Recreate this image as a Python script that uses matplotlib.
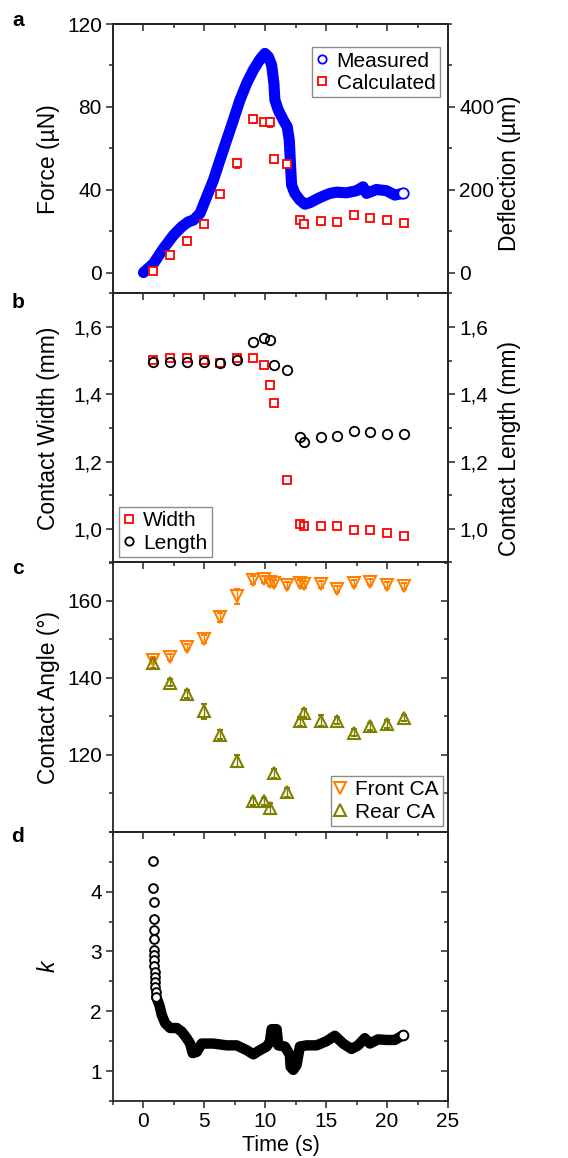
import matplotlib
matplotlib.use("Agg")
import matplotlib.pyplot as plt
from matplotlib.lines import Line2D
from matplotlib.ticker import MultipleLocator, FuncFormatter

plt.rcParams['font.family'] = ['Liberation Sans', 'DejaVu Sans']
plt.rcParams['font.size'] = 15

# time points of the discrete measurements (s)
t_pts = [0.82, 2.19, 3.55, 4.97, 6.28, 7.65, 9.02, 9.89, 10.38, 10.71,
         11.80, 12.84, 13.17, 14.54, 15.90, 17.27, 18.58, 20.0, 21.37]

# panel a - measured force trace
t_meas = [0.0, 0.82, 1.64, 2.46, 3.14, 3.69, 4.10, 4.64, 5.19, 5.74, 6.28,
          6.83, 7.38, 7.92, 8.47, 9.02, 9.56, 9.97, 10.25, 10.52, 10.71,
          10.79, 11.07, 11.48, 11.80, 11.97, 12.08, 12.16, 12.43, 12.84,
          13.25, 13.66, 14.21, 14.75, 15.30, 15.85, 16.67, 17.49, 18.03,
          18.31, 19.13, 19.95, 20.63, 21.31]
f_meas = [0.0, 4.3, 11.6, 18.0, 22.1, 24.5, 25.3, 28.5, 36.6, 44.6, 54.3,
          64.0, 73.6, 83.3, 91.3, 97.8, 102.9, 105.8, 104.2, 100.2, 91.3,
          83.3, 78.4, 73.6, 70.4, 64.0, 51.1, 42.2, 38.2, 35.0,
          33.0, 33.7, 35.4, 36.9, 38.2, 38.8, 38.5, 39.5, 41.4,
          38.2, 40.1, 39.5, 37.4, 38.2]
f_calc = [0.8, 8.4, 15.0, 23.5, 37.7, 52.7, 73.9, 72.8, 72.5, 54.8,
          52.2, 25.3, 23.2, 25.0, 24.5, 27.7, 26.4, 25.3, 23.7]
f_calc_err = [0.6, 0.8, 1.0, 1.5, 1.2, 2.2, 1.5, 1.5, 2.0, 1.0,
              1.0, 1.2, 1.0, 0.8, 1.0, 1.2, 1.2, 0.8, 0.8]

# panel b - contact width / length (mm)
width = [1.501, 1.509, 1.509, 1.503, 1.494, 1.509, 1.507, 1.487, 1.426, 1.373,
         1.144, 1.015, 1.008, 1.008, 1.008, 0.996, 0.996, 0.988, 0.978]
length = [1.496, 1.497, 1.495, 1.495, 1.494, 1.503, 1.556, 1.568, 1.561, 1.488,
          1.472, 1.274, 1.259, 1.274, 1.276, 1.292, 1.288, 1.281, 1.281]

# panel c - contact angles (deg)
front_ca = [144.7, 145.5, 148.0, 150.1, 155.8, 161.2, 165.4, 165.6, 165.0, 164.6,
            164.2, 164.6, 164.3, 164.3, 163.1, 164.6, 165.0, 164.2, 164.0]
front_err = [0.8, 0.8, 0.8, 1.0, 1.2, 2.0, 1.0, 1.0, 1.0, 0.8,
             0.8, 0.8, 0.8, 0.8, 0.8, 0.8, 0.8, 0.8, 0.8]
rear_ca = [143.8, 138.8, 135.9, 131.3, 125.2, 118.4, 107.9, 107.9, 106.1, 115.2,
           110.3, 128.7, 130.8, 128.9, 128.9, 125.8, 127.4, 128.0, 129.5]
rear_err = [1.2, 1.0, 1.0, 2.0, 1.2, 1.5, 1.0, 1.0, 1.5, 1.2,
            1.2, 1.2, 1.0, 1.5, 1.0, 1.0, 1.0, 1.0, 0.8]

# panel d - k; first the isolated points at the start, then the dense trace
t_k_start = [0.82, 0.82, 0.83, 0.84, 0.84, 0.85, 0.86, 0.87, 0.88, 0.89,
             0.91, 0.93, 0.95, 0.98, 1.01, 1.05]
k_start = [4.51, 4.06, 3.82, 3.54, 3.36, 3.21, 3.02, 2.94, 2.86, 2.75,
           2.66, 2.58, 2.49, 2.41, 2.33, 2.24]
t_k = [1.05, 1.31, 1.50, 1.78, 2.19, 2.73, 3.14, 3.55, 3.83, 4.04, 4.37, 4.78,
       5.74, 6.83, 7.65, 8.47, 9.02, 9.56, 10.11, 10.38, 10.52, 10.93, 11.07,
       11.61, 12.02, 12.08, 12.30, 12.57, 12.84, 13.39, 14.21, 15.03, 15.71,
       16.39, 17.08, 17.62, 18.17, 18.58, 19.26, 19.95, 20.63, 21.31]
k_vals = [2.24, 2.10, 1.94, 1.80, 1.72, 1.72, 1.66, 1.55, 1.46, 1.30, 1.32, 1.46,
          1.46, 1.43, 1.43, 1.35, 1.28, 1.35, 1.41, 1.49, 1.70, 1.70, 1.43,
          1.41, 1.27, 1.07, 1.02, 1.10, 1.41, 1.43, 1.43, 1.50, 1.59,
          1.46, 1.37, 1.43, 1.55, 1.46, 1.53, 1.52, 1.52, 1.60]

BLUE = '#0000ff'
RED = '#ff0000'
ORANGE = '#ff8000'
OLIVE = '#808000'
SPINE = '#262626'
LABEL_FS = 16.5

W, H = 568, 1158
fig = plt.figure(figsize=(W / 100, H / 100), dpi=100)

left_px, right_px = 113, 448
top_px, bot_px = 24, 1101
ph = (bot_px - top_px) / 4.0
axes = []
for i in range(4):
    b = bot_px - (3 - i) * ph
    ax = fig.add_axes([left_px / W, 1 - b / H, (right_px - left_px) / W, ph / H])
    axes.append(ax)
ax_a, ax_b, ax_c, ax_d = axes

comma = FuncFormatter(lambda v, p: ('%.1f' % v).replace('.', ','))


def style(ax, yticks, ymin, label_y, right_mirror=True):
    ax.set_xlim(-2.5, 25)
    ax.xaxis.set_major_locator(MultipleLocator(5))
    ax.xaxis.set_minor_locator(MultipleLocator(2.5))
    ax.set_yticks(yticks)
    ax.yaxis.set_minor_locator(MultipleLocator(ymin))
    for s in ax.spines.values():
        s.set_linewidth(1.3)
        s.set_color(SPINE)
    ax.tick_params(which='both', direction='out', top=False, right=False,
                   width=1.1, color=SPINE, pad=3)
    ax.tick_params(which='major', length=5)
    ax.tick_params(which='minor', length=3)
    sx = ax.secondary_xaxis('top')
    sx.xaxis.set_major_locator(MultipleLocator(5))
    sx.xaxis.set_minor_locator(MultipleLocator(2.5))
    sx.tick_params(which='both', direction='in', labeltop=False, width=1.1, color=SPINE)
    sx.tick_params(which='major', length=5)
    sx.tick_params(which='minor', length=3)
    sx.spines['top'].set_linewidth(1.3)
    sx.spines['top'].set_color(SPINE)
    if right_mirror:
        sy = ax.secondary_yaxis('right')
        sy.set_yticks(yticks)
        sy.yaxis.set_minor_locator(MultipleLocator(ymin))
        sy.tick_params(which='both', direction='in', labelright=False, width=1.1, color=SPINE)
        sy.tick_params(which='major', length=5)
        sy.tick_params(which='minor', length=3)
        sy.spines['right'].set_linewidth(1.3)
        sy.spines['right'].set_color(SPINE)
    if ax is not ax_d:
        ax.tick_params(axis='x', labelbottom=False)
    ax.yaxis.set_label_coords(-0.158, label_y)


def twin(ax, lo, hi, yticks, mnr, label, label_y, fmt=None):
    tw = ax.twinx()
    tw.set_ylim(lo, hi)
    tw.set_yticks(yticks)
    tw.yaxis.set_minor_locator(MultipleLocator(mnr))
    if fmt is not None:
        tw.yaxis.set_major_formatter(fmt)
    tw.tick_params(which='both', direction='out', width=1.1, color=SPINE, pad=3)
    tw.tick_params(which='major', length=5)
    tw.tick_params(which='minor', length=3)
    for s in tw.spines.values():
        s.set_linewidth(1.3)
        s.set_color(SPINE)
    tw.set_ylabel(label, fontsize=LABEL_FS)
    tw.yaxis.set_label_coords(1.149, label_y)
    return tw


def leg_style(ax, handles, labels, loc, anchor):
    lg = ax.legend(handles, labels, loc=loc, bbox_to_anchor=anchor, borderaxespad=0,
                   fancybox=False, edgecolor='#8c8c8c', framealpha=1, fontsize=15,
                   handlelength=0.5, handletextpad=0.45, labelspacing=0.15,
                   borderpad=0.22)
    lg.get_frame().set_linewidth(1.0)
    return lg


# ---- panel a ----
ax_a.set_ylim(-10, 120)
style(ax_a, [0, 40, 80, 120], 20, 0.432, right_mirror=False)
ax_a.plot(t_meas, f_meas, '-', color=BLUE, lw=8.0, solid_capstyle='round',
          solid_joinstyle='round', zorder=2)
ax_a.plot(t_meas[-1], f_meas[-1], 'o', ms=7.5, mfc='white', mec=BLUE, mew=1.3, zorder=3)
ax_a.errorbar(t_pts, f_calc, yerr=f_calc_err, fmt='s', ms=5.2, mfc='white', mec=RED,
              mew=1.3, ecolor=RED, elinewidth=1, capsize=2.5, capthick=1, zorder=4)
ax_a.set_ylabel('Force (µN)', fontsize=LABEL_FS)
twin(ax_a, -50, 600, [0, 200, 400], 100, 'Deflection (µm)', 0.447)
h_a = [Line2D([], [], ls='', marker='o', ms=6, mfc='none', mec=BLUE, mew=1.3),
       Line2D([], [], ls='', marker='s', ms=5.2, mfc='none', mec=RED, mew=1.3)]
leg_style(ax_a, h_a, ['Measured', 'Calculated'], 'upper right', (0.976, 0.9145))

# ---- panel b ----
ax_b.set_ylim(0.9, 1.7)
style(ax_b, [1.0, 1.2, 1.4, 1.6], 0.1, 0.41, right_mirror=False)
ax_b.yaxis.set_major_formatter(comma)
ax_b.plot(t_pts, width, 's', ms=5.2, mfc='none', mec=RED, mew=1.3, zorder=3)
ax_b.plot(t_pts, length, 'o', ms=6.8, mfc='none', mec='black', mew=1.3, zorder=4)
ax_b.set_ylabel('Contact Width (mm)', fontsize=LABEL_FS)
twin(ax_b, 0.9, 1.7, [1.0, 1.2, 1.4, 1.6], 0.1, 'Contact Length (mm)', 0.425, comma)
h_b = [Line2D([], [], ls='', marker='s', ms=5.2, mfc='none', mec=RED, mew=1.3),
       Line2D([], [], ls='', marker='o', ms=6, mfc='none', mec='black', mew=1.3)]
leg_style(ax_b, h_b, ['Width', 'Length'], 'lower left', (0.018, 0.02))

# ---- panel c ----
ax_c.set_ylim(100, 170)
style(ax_c, [120, 140, 160], 10, 0.482)
ax_c.errorbar(t_pts, front_ca, yerr=front_err, fmt='v', ms=8, mfc='none', mec=ORANGE,
              mew=1.5, ecolor=ORANGE, elinewidth=1, capsize=2.5, capthick=1)
ax_c.errorbar(t_pts, rear_ca, yerr=rear_err, fmt='^', ms=8, mfc='none', mec=OLIVE,
              mew=1.5, ecolor=OLIVE, elinewidth=1, capsize=2.5, capthick=1)
ax_c.set_ylabel('Contact Angle (°)', fontsize=LABEL_FS)
h_c = [Line2D([], [], ls='', marker='v', ms=8, mfc='none', mec=ORANGE, mew=1.5),
       Line2D([], [], ls='', marker='^', ms=8, mfc='none', mec=OLIVE, mew=1.5)]
leg_style(ax_c, h_c, ['Front CA', 'Rear CA'], 'lower right', (0.985, 0.021))

# ---- panel d ----
ax_d.set_ylim(0.5, 5)
style(ax_d, [1, 2, 3, 4], 0.5, 0.487)
ax_d.plot(t_k, k_vals, '-', color='black', lw=7.5, solid_capstyle='round',
          solid_joinstyle='round', zorder=2)
ax_d.plot(t_k_start, k_start, 'o', ms=6.3, mfc='white', mec='black', mew=1.4, zorder=3)
ax_d.plot(t_k[-1], k_vals[-1], 'o', ms=7, mfc='white', mec='black', mew=1.4, zorder=3)
ax_d.set_ylabel('k', fontstyle='italic', fontsize=LABEL_FS)
ax_d.set_xlabel('Time (s)', fontsize=15.5, labelpad=3)

# panel letters
for lab, ypx in zip('abcd', [21, 303, 568, 837]):
    fig.text(18 / W, 1 - ypx / H, lab, fontsize=15, fontweight='bold',
             ha='center', va='center')

fig.savefig('out.png', dpi=100)
